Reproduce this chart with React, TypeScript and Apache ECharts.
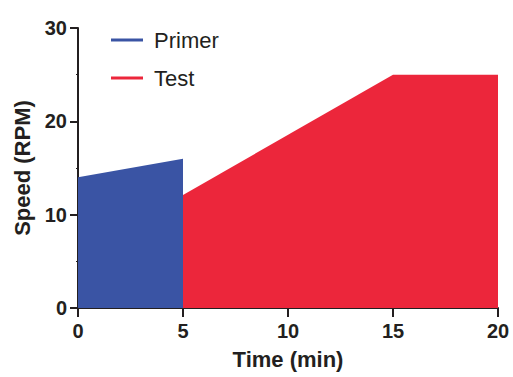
import React, { useEffect, useRef } from "react";
import * as echarts from "echarts";

const primerData: [number, number][] = [[0, 14], [5, 16]];
const testData: [number, number][] = [[5, 12.1], [15, 25], [20, 25]];
const seriesNames = ["Primer", "Test"];
const xTicks = { min: 0, max: 20, interval: 5 };
const yTicks = { min: 0, max: 30, interval: 10 };

const BLUE = "#3A54A4";
const RED = "#EC263B";
const AXIS = "#231F20";
const FONT = "'Liberation Sans', Arial, Helvetica, sans-serif";

export default function App() {
  const ref = useRef<HTMLDivElement>(null);
  useEffect(() => {
    if (!ref.current) return;
    const chart = echarts.init(ref.current, undefined, { renderer: "svg" });
    chart.setOption({
      animation: false,
      textStyle: { fontFamily: FONT },
      grid: { left: 78, right: 15, top: 28, bottom: 69, containLabel: false },
      legend: {
        orient: "vertical",
        left: 106,
        top: 24,
        icon: "rect",
        itemWidth: 32,
        itemHeight: 3,
        itemGap: 16,
        textStyle: { fontSize: 22, color: "#231F20", fontFamily: FONT, padding: [0, 0, 0, 6] },
        data: [
          { name: seriesNames[0], itemStyle: { color: BLUE, borderWidth: 0 } },
          { name: seriesNames[1], itemStyle: { color: RED, borderWidth: 0 } },
        ],
      },
      xAxis: {
        type: "value",
        min: xTicks.min,
        max: xTicks.max,
        interval: xTicks.interval,
        name: "Time (min)",
        nameLocation: "middle",
        nameGap: 40,
        nameTextStyle: { fontSize: 22, fontWeight: "bold", color: AXIS, fontFamily: FONT },
        axisLine: { show: true, onZero: false, lineStyle: { color: AXIS, width: 2 } },
        axisTick: { show: true, inside: false, length: 9, lineStyle: { color: AXIS, width: 2 } },
        axisLabel: { fontSize: 20, fontWeight: "bold", color: AXIS, margin: 13, fontFamily: FONT },
        splitLine: { show: false },
      },
      yAxis: {
        type: "value",
        min: yTicks.min,
        max: yTicks.max,
        interval: yTicks.interval,
        name: "Speed (RPM)",
        nameLocation: "middle",
        nameGap: 45,
        nameTextStyle: { fontSize: 22, fontWeight: "bold", color: AXIS, fontFamily: FONT },
        axisLine: { show: true, onZero: false, lineStyle: { color: AXIS, width: 2 } },
        axisTick: { show: true, inside: false, length: 8, lineStyle: { color: AXIS, width: 2 } },
        minorTick: { show: true, splitNumber: 2, length: 2, lineStyle: { color: AXIS, width: 1 } },
        axisLabel: { fontSize: 20, fontWeight: "bold", color: AXIS, margin: 11, fontFamily: FONT },
        splitLine: { show: false },
      },
      series: [
        {
          name: seriesNames[0],
          type: "line",
          data: primerData,
          showSymbol: false,
          color: BLUE,
          lineStyle: { width: 0, color: BLUE },
          areaStyle: { color: BLUE, opacity: 1 },
          z: 1,
        },
        {
          name: seriesNames[1],
          type: "line",
          data: testData,
          showSymbol: false,
          color: RED,
          lineStyle: { width: 0, color: RED },
          areaStyle: { color: RED, opacity: 1 },
          z: 1,
        },
      ],
    });
    return () => chart.dispose();
  }, []);
  return <div ref={ref} style={{ width: 513, height: 377, position: "absolute", left: 0, top: 0 }} />;
}
